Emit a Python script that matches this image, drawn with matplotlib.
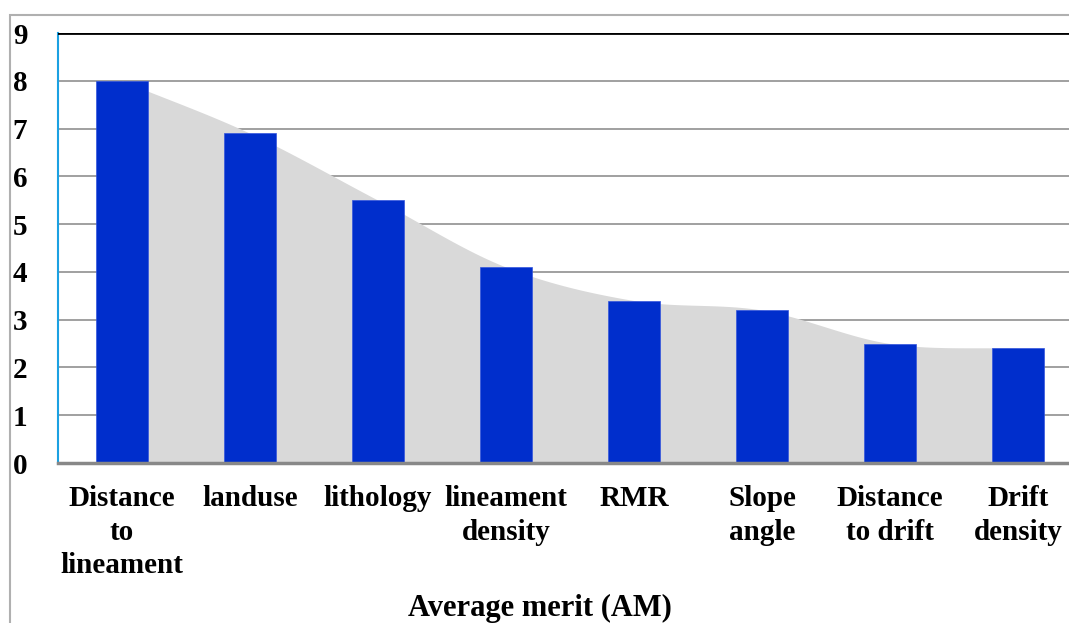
import matplotlib.pyplot as plt
import numpy as np
from matplotlib.patches import Rectangle

categories = ["Distance\nto\nlineament", "landuse", "lithology", "lineament\ndensity",
              "RMR", "Slope\nangle", "Distance\nto drift", "Drift\ndensity"]
merit = [8.0, 6.9, 5.5, 4.1, 3.4, 3.2, 2.5, 2.4]
yticks = list(range(0, 10))

plt.rcParams["font.family"] = ["Liberation Serif", "DejaVu Serif"]
plt.rcParams["font.weight"] = "bold"


def smooth(xs, ys, n=30):
    # Catmull-Rom through the data points, just for the soft grey area
    xs = np.asarray(xs, float)
    ys = np.asarray(ys, float)
    px = np.concatenate([[2 * xs[0] - xs[1]], xs, [2 * xs[-1] - xs[-2]]])
    py = np.concatenate([[2 * ys[0] - ys[1]], ys, [2 * ys[-1] - ys[-2]]])
    outx, outy = [], []
    t = np.linspace(0, 1, n)
    for i in range(1, len(px) - 2):
        for arr, out in ((px, outx), (py, outy)):
            p0, p1, p2, p3 = arr[i - 1], arr[i], arr[i + 1], arr[i + 2]
            out.extend(0.5 * (2 * p1 + (-p0 + p2) * t + (2 * p0 - 5 * p1 + 4 * p2 - p3) * t ** 2
                              + (-p0 + 3 * p1 - 3 * p2 + p3) * t ** 3))
    return np.array(outx), np.array(outy)


fig = plt.figure(figsize=(10.69, 6.23), dpi=100)
fig.patch.set_facecolor("white")
# outer frame
fig.patches.append(Rectangle((10 / 1069, -0.1), 1.2, (623 - 15) / 623 + 0.1,
                             transform=fig.transFigure, fill=False,
                             edgecolor="#b0b0b0", linewidth=1.5, zorder=0))

ax = fig.add_axes([58 / 1069, (623 - 463) / 623, 1024 / 1069, 430 / 623])
x = np.arange(len(categories))

sx, sy = smooth(x, merit)
ax.fill_between(sx, 0, sy, color="#d9d9d9", linewidth=0, zorder=1)
ax.bar(x, merit, width=0.41, color="#002ecc", edgecolor="#3355dd", linewidth=0.5, zorder=2)

ax.set_xlim(-0.5, len(categories) - 0.5)
ax.set_ylim(0, 9)
ax.set_yticks(yticks)
ax.set_yticklabels([str(v) for v in yticks], fontsize=21, fontweight="bold")
for v in yticks[1:-1]:
    ax.axhline(v, color="#999999", linewidth=1.3, zorder=0.5)
ax.axhline(9, color="black", linewidth=2, zorder=3)

ax.set_xticks(x)
ax.set_xticklabels(categories, fontsize=21, fontweight="bold", linespacing=1.3, va="top")
ax.tick_params(axis="both", length=0)
ax.tick_params(axis="x", pad=16)
ax.tick_params(axis="y", pad=22)

for s in ("top", "right"):
    ax.spines[s].set_visible(False)
ax.spines["left"].set_color("#1ba1e2")
ax.spines["left"].set_linewidth(1.5)
ax.spines["bottom"].set_color("#888888")
ax.spines["bottom"].set_linewidth(2.5)
ax.spines["bottom"].set_zorder(4)

fig.text(540 / 1069, 1 - 608 / 623, "Average merit (AM)", ha="center", va="center",
         fontsize=22, fontweight="bold")

plt.savefig("out.png", dpi=100)
plt.close(fig)
